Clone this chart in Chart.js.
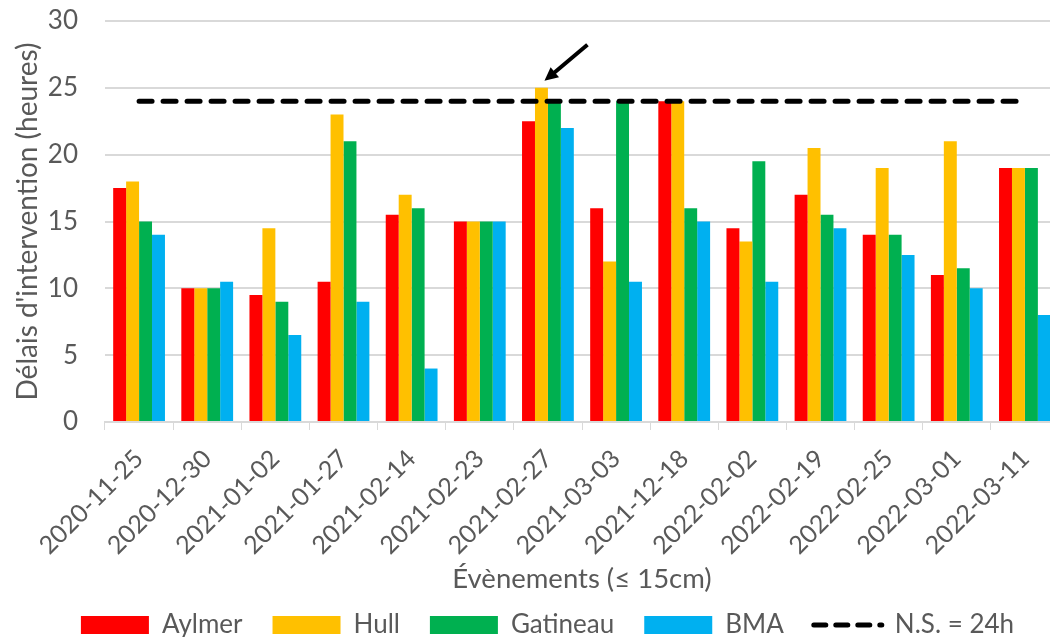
<!DOCTYPE html>
<html lang="fr">
<head>
<meta charset="utf-8">
<title>Délais d'intervention</title>
<script src="https://cdn.jsdelivr.net/npm/chart.js@4/dist/chart.umd.min.js"></script>
<style>
  html, body { margin: 0; padding: 0; background: #fff; overflow: hidden; }
  #wrap { width: 1050px; height: 637px; overflow: hidden; }
</style>
</head>
<body>
<div id="wrap"><canvas id="chart" width="1062" height="637"></canvas></div>
<script>
const evenements = ['2020-11-25', '2020-12-30', '2021-01-02', '2021-01-27', '2021-02-14', '2021-02-23', '2021-02-27',
  '2021-03-03', '2021-12-18', '2022-02-02', '2022-02-19', '2022-02-25', '2022-03-01', '2022-03-11'];

const aylmer   = [17.5, 10, 9.5, 10.5, 15.5, 15, 22.5, 16, 24, 14.5, 17, 14, 11, 19];
const hull     = [18, 10, 14.5, 23, 17, 15, 25, 12, 24, 13.5, 20.5, 19, 21, 19];
const gatineau = [15, 10, 9, 21, 16, 15, 24, 24, 16, 19.5, 15.5, 14, 11.5, 19];
const bma      = [14, 10.5, 6.5, 9, 4, 15, 22, 10.5, 15, 10.5, 14.5, 12.5, 10, 8];
const normeService = [24, 24, 24, 24, 24, 24, 24, 24, 24, 24, 24, 24, 24, 24];

const yTicks = [0, 5, 10, 15, 20, 25, 30];
const arrowEvent = '2021-02-27';

const grey = '#595959';
const font = 'Lato, "Open Sans", sans-serif';

// flèche noire qui pointe le haut de la barre Hull du 2021-02-27
const arrowPlugin = {
  id: 'arrow',
  afterDatasetsDraw(chart) {
    const idx = evenements.indexOf(arrowEvent);
    const bar = chart.getDatasetMeta(1).data[idx];
    if (!bar) return;
    const ctx = chart.ctx;
    const tipX = bar.x + 3, tipY = bar.y - 7;
    const tailX = bar.x + 46, tailY = bar.y - 43;
    const ang = Math.atan2(tipY - tailY, tipX - tailX);
    ctx.save();
    ctx.strokeStyle = '#000';
    ctx.fillStyle = '#000';
    ctx.lineWidth = 4;
    ctx.beginPath();
    ctx.moveTo(tailX, tailY);
    ctx.lineTo(tipX - Math.cos(ang) * 8, tipY - Math.sin(ang) * 8);
    ctx.stroke();
    ctx.beginPath();
    ctx.moveTo(tipX, tipY);
    ctx.lineTo(tipX - Math.cos(ang - 0.45) * 15, tipY - Math.sin(ang - 0.45) * 15);
    ctx.lineTo(tipX - Math.cos(ang + 0.45) * 15, tipY - Math.sin(ang + 0.45) * 15);
    ctx.closePath();
    ctx.fill();
    ctx.restore();
  }
};

// la légende est un peu décalée vers la droite dans l'original
const legendShift = {
  id: 'legendShift',
  afterLayout(chart) { chart.legend.left += 36; }
};

const barDefaults = { categoryPercentage: 0.76, barPercentage: 1.0, borderWidth: 0, order: 1 };

new Chart(document.getElementById('chart'), {
  type: 'bar',
  data: {
    labels: evenements,
    datasets: [
      { label: 'Aylmer', data: aylmer, backgroundColor: '#FF0000', ...barDefaults },
      { label: 'Hull', data: hull, backgroundColor: '#FFC000', ...barDefaults },
      { label: 'Gatineau', data: gatineau, backgroundColor: '#00B050', ...barDefaults },
      { label: 'BMA', data: bma, backgroundColor: '#00B0F0', ...barDefaults },
      {
        type: 'line', label: 'N.S. = 24h', data: normeService,
        borderColor: '#000', backgroundColor: '#000', borderWidth: 5,
        borderDash: [13, 11], borderCapStyle: 'round',
        pointRadius: 0, fill: false, order: 0
      }
    ]
  },
  options: {
    responsive: false,
    animation: false,
    layout: { padding: { top: 21, right: 3, bottom: -11, left: 0 } },
    plugins: {
      tooltip: { enabled: false },
      legend: {
        position: 'bottom',
        labels: {
          usePointStyle: true,
          pointStyleWidth: 68,
          boxHeight: 18,
          padding: 30,
          color: grey,
          font: { family: font, size: 26 },
          sort: (a, b) => a.datasetIndex - b.datasetIndex,
          generateLabels(chart) {
            const items = Chart.defaults.plugins.legend.labels.generateLabels(chart);
            items.forEach(it => {
              const ds = chart.data.datasets[it.datasetIndex];
              if (ds.type === 'line') {
                it.pointStyle = 'line';
                it.lineWidth = 5;
                it.lineDash = [12, 10];
                it.lineCap = 'round';
                it.strokeStyle = '#000';
              } else {
                it.pointStyle = 'rect';
                it.lineWidth = 0;
              }
            });
            return items;
          }
        }
      }
    },
    scales: {
      x: {
        afterFit(scale) { scale.height = 160; },
        grid: { display: true, drawOnChartArea: false, drawTicks: true, tickLength: 8, color: '#d9d9d9', offset: true },
        border: { display: true, color: '#d9d9d9', width: 2 },
        ticks: {
          color: grey, font: { family: font, size: 25 },
          minRotation: 45, maxRotation: 45, autoSkip: false, padding: 14
        },
        title: {
          display: true, text: 'Évènements (≤ 15cm)', color: grey,
          font: { family: font, size: 27.5 }, padding: { top: 0, bottom: -14 }
        }
      },
      y: {
        min: 0, max: 30,
        afterFit(scale) {
          scale.width = 105;
          scale.paddingTop = 0;
        },
        afterBuildTicks(scale) { scale.ticks = yTicks.map(v => ({ value: v })); },
        grid: { color: '#d9d9d9', lineWidth: 2, drawTicks: false },
        border: { display: false },
        ticks: { color: grey, font: { family: font, size: 26 }, padding: 27 },
        title: {
          display: true, text: "Délais d'intervention (heures)", color: grey,
          font: { family: font, size: 28 }, padding: { top: 11, bottom: 0 }
        }
      }
    }
  },
  plugins: [arrowPlugin, legendShift]
});
</script>
</body>
</html>
